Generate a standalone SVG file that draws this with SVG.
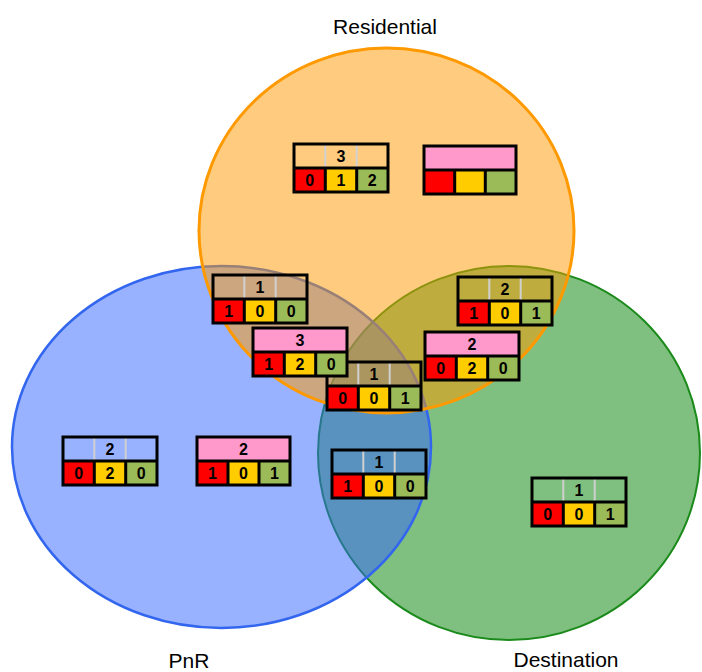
<svg xmlns="http://www.w3.org/2000/svg" width="702" height="672" viewBox="0 0 702 672">
<defs>
<style>
.lbl{font-family:"Liberation Sans",Arial,sans-serif;font-size:21px;fill:#000;text-anchor:middle}
.num{font-family:"Liberation Sans",Arial,sans-serif;font-size:16px;font-weight:bold;fill:#000;text-anchor:middle}
.frame{fill:none;stroke:#000;stroke-width:3}
.div{stroke:#D0D0D0;stroke-width:2}
.r{fill:#FF0000}.y{fill:#FFCC00}.g{fill:#9BBB59}.pk{fill:#FF99CC}
</style>
</defs>
<rect width="702" height="672" fill="#fff"/>
<g id="sets">
<ellipse id="destination" cx="509" cy="453" rx="191" ry="187" fill="#008000" fill-opacity="0.5" stroke="#1A8A1A" stroke-width="2"/>
<ellipse id="pnr" cx="221.5" cy="447" rx="209.5" ry="181" fill="#3366FF" fill-opacity="0.5" stroke="#3366EE" stroke-width="2.5"/>
<ellipse id="residential" cx="386.5" cy="230.5" rx="187.5" ry="182.5" fill="#FF9900" fill-opacity="0.5" stroke="#FF9900" stroke-width="3"/>
</g>
<g id="labels">
<text class="lbl" x="385" y="34">Residential</text>
<text class="lbl" x="189" y="668">PnR</text>
<text class="lbl" x="566" y="667">Destination</text>
</g>
<g id="box-res-1" transform="translate(294,144)">
<line class="div" x1="31.3" y1="0" x2="31.3" y2="24"/><line class="div" x1="62.7" y1="0" x2="62.7" y2="24"/>
<rect class="r" x="0" y="24" width="31.3" height="24"/><rect class="y" x="31.3" y="24" width="31.3" height="24"/><rect class="g" x="62.7" y="24" width="31.3" height="24"/>
<path class="frame" d="M0,0H94V48H0Z M0,24H94 M31.3,24V48 M62.7,24V48"/>
<text class="num" x="47" y="18">3</text><text class="num" x="15.7" y="42">0</text><text class="num" x="47" y="42">1</text><text class="num" x="78.3" y="42">2</text>
</g>
<g id="box-res-2" transform="translate(424,146)">
<rect class="pk" x="0" y="0" width="92" height="24"/>
<rect class="r" x="0" y="24" width="30.7" height="24"/><rect class="y" x="30.7" y="24" width="30.7" height="24"/><rect class="g" x="61.3" y="24" width="30.7" height="24"/>
<path class="frame" d="M0,0H92V48H0Z M0,24H92 M30.7,24V48 M61.3,24V48"/>
</g>
<g id="box-rp-1" transform="translate(213,275)">
<line class="div" x1="31.3" y1="0" x2="31.3" y2="24"/><line class="div" x1="62.7" y1="0" x2="62.7" y2="24"/>
<rect class="r" x="0" y="24" width="31.3" height="24"/><rect class="y" x="31.3" y="24" width="31.3" height="24"/><rect class="g" x="62.7" y="24" width="31.3" height="24"/>
<path class="frame" d="M0,0H94V48H0Z M0,24H94 M31.3,24V48 M62.7,24V48"/>
<text class="num" x="47" y="18">1</text><text class="num" x="15.7" y="42">1</text><text class="num" x="47" y="42">0</text><text class="num" x="78.3" y="42">0</text>
</g>
<g id="box-all" transform="translate(327,362)">
<line class="div" x1="31.3" y1="0" x2="31.3" y2="24"/><line class="div" x1="62.7" y1="0" x2="62.7" y2="24"/>
<rect class="r" x="0" y="24" width="31.3" height="24"/><rect class="y" x="31.3" y="24" width="31.3" height="24"/><rect class="g" x="62.7" y="24" width="31.3" height="24"/>
<path class="frame" d="M0,0H94V48H0Z M0,24H94 M31.3,24V48 M62.7,24V48"/>
<text class="num" x="47" y="18">1</text><text class="num" x="15.7" y="42">0</text><text class="num" x="47" y="42">0</text><text class="num" x="78.3" y="42">1</text>
</g>
<g id="box-rp-2" transform="translate(253,328)">
<rect class="pk" x="0" y="0" width="94" height="24"/>
<rect class="r" x="0" y="24" width="31.3" height="24"/><rect class="y" x="31.3" y="24" width="31.3" height="24"/><rect class="g" x="62.7" y="24" width="31.3" height="24"/>
<path class="frame" d="M0,0H94V48H0Z M0,24H94 M31.3,24V48 M62.7,24V48"/>
<text class="num" x="47" y="18">3</text><text class="num" x="15.7" y="42">1</text><text class="num" x="47" y="42">2</text><text class="num" x="78.3" y="42">0</text>
</g>
<g id="box-rd-1" transform="translate(458,277)">
<line class="div" x1="31.3" y1="0" x2="31.3" y2="24"/><line class="div" x1="62.7" y1="0" x2="62.7" y2="24"/>
<rect class="r" x="0" y="24" width="31.3" height="24"/><rect class="y" x="31.3" y="24" width="31.3" height="24"/><rect class="g" x="62.7" y="24" width="31.3" height="24"/>
<path class="frame" d="M0,0H94V48H0Z M0,24H94 M31.3,24V48 M62.7,24V48"/>
<text class="num" x="47" y="18">2</text><text class="num" x="15.7" y="42">1</text><text class="num" x="47" y="42">0</text><text class="num" x="78.3" y="42">1</text>
</g>
<g id="box-rd-2" transform="translate(425,332)">
<rect class="pk" x="0" y="0" width="94" height="24"/>
<rect class="r" x="0" y="24" width="31.3" height="24"/><rect class="y" x="31.3" y="24" width="31.3" height="24"/><rect class="g" x="62.7" y="24" width="31.3" height="24"/>
<path class="frame" d="M0,0H94V48H0Z M0,24H94 M31.3,24V48 M62.7,24V48"/>
<text class="num" x="47" y="18">2</text><text class="num" x="15.7" y="42">0</text><text class="num" x="47" y="42">2</text><text class="num" x="78.3" y="42">0</text>
</g>
<g id="box-pnr-1" transform="translate(63,437)">
<line class="div" x1="31.3" y1="0" x2="31.3" y2="24"/><line class="div" x1="62.7" y1="0" x2="62.7" y2="24"/>
<rect class="r" x="0" y="24" width="31.3" height="24"/><rect class="y" x="31.3" y="24" width="31.3" height="24"/><rect class="g" x="62.7" y="24" width="31.3" height="24"/>
<path class="frame" d="M0,0H94V48H0Z M0,24H94 M31.3,24V48 M62.7,24V48"/>
<text class="num" x="47" y="18">2</text><text class="num" x="15.7" y="42">0</text><text class="num" x="47" y="42">2</text><text class="num" x="78.3" y="42">0</text>
</g>
<g id="box-pnr-2" transform="translate(197,437)">
<rect class="pk" x="0" y="0" width="93" height="24"/>
<rect class="r" x="0" y="24" width="31" height="24"/><rect class="y" x="31" y="24" width="31" height="24"/><rect class="g" x="62" y="24" width="31" height="24"/>
<path class="frame" d="M0,0H93V48H0Z M0,24H93 M31,24V48 M62,24V48"/>
<text class="num" x="46.5" y="18">2</text><text class="num" x="15.5" y="42">1</text><text class="num" x="46.5" y="42">0</text><text class="num" x="77.5" y="42">1</text>
</g>
<g id="box-pd-1" transform="translate(332,450)">
<line class="div" x1="31.3" y1="0" x2="31.3" y2="24"/><line class="div" x1="62.7" y1="0" x2="62.7" y2="24"/>
<rect class="r" x="0" y="24" width="31.3" height="24"/><rect class="y" x="31.3" y="24" width="31.3" height="24"/><rect class="g" x="62.7" y="24" width="31.3" height="24"/>
<path class="frame" d="M0,0H94V48H0Z M0,24H94 M31.3,24V48 M62.7,24V48"/>
<text class="num" x="47" y="18">1</text><text class="num" x="15.7" y="42">1</text><text class="num" x="47" y="42">0</text><text class="num" x="78.3" y="42">0</text>
</g>
<g id="box-dest-1" transform="translate(532,478)">
<line class="div" x1="31.3" y1="0" x2="31.3" y2="24"/><line class="div" x1="62.7" y1="0" x2="62.7" y2="24"/>
<rect class="r" x="0" y="24" width="31.3" height="24"/><rect class="y" x="31.3" y="24" width="31.3" height="24"/><rect class="g" x="62.7" y="24" width="31.3" height="24"/>
<path class="frame" d="M0,0H94V48H0Z M0,24H94 M31.3,24V48 M62.7,24V48"/>
<text class="num" x="47" y="18">1</text><text class="num" x="15.7" y="42">0</text><text class="num" x="47" y="42">0</text><text class="num" x="78.3" y="42">1</text>
</g>
</svg>
